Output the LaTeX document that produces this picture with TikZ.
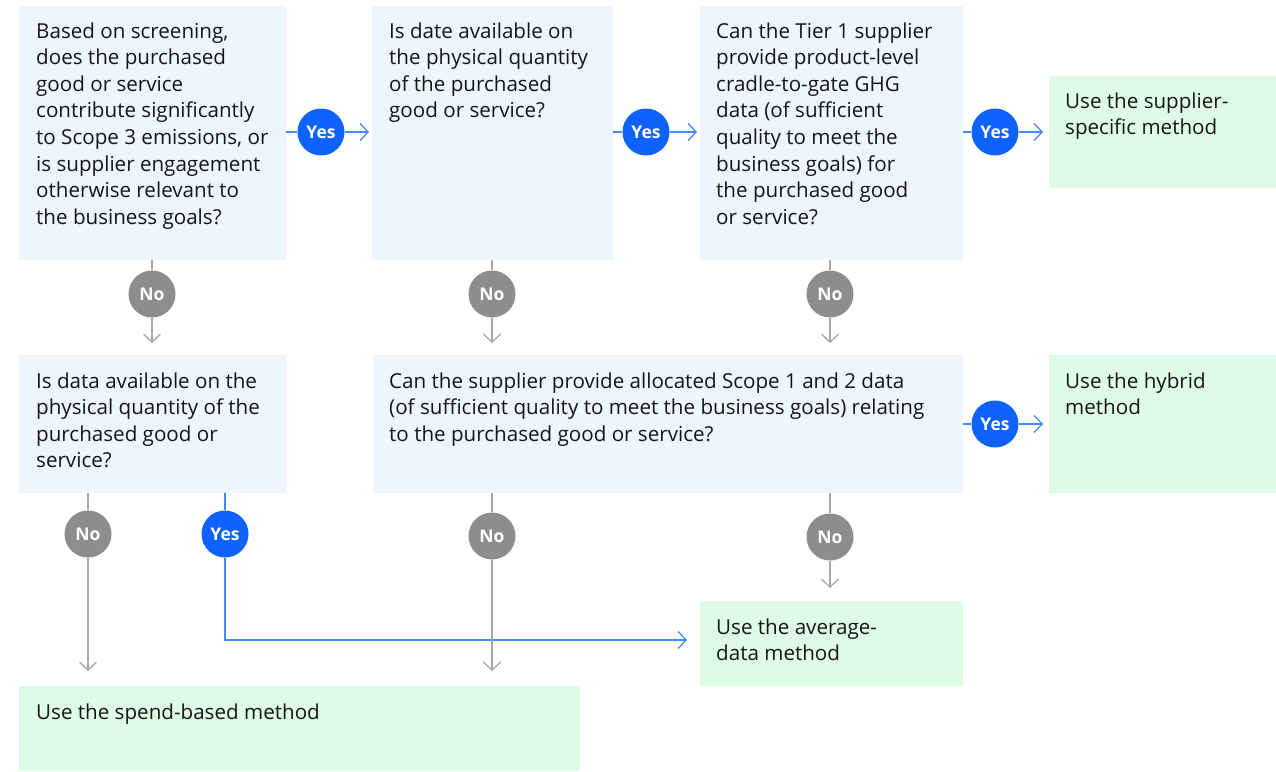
\documentclass[tikz,border=0pt]{standalone}
\usepackage{fontspec}
\setmainfont{Open Sans}
\usetikzlibrary{arrows.meta}
\definecolor{qfill}{HTML}{EDF5FF}
\definecolor{afill}{HTML}{DEFBE6}
\definecolor{yesblue}{HTML}{0F62FE}
\definecolor{yesline}{HTML}{4589FF}
\definecolor{nogray}{HTML}{8D8D8D}
\definecolor{noline}{HTML}{A8A8A8}
\definecolor{ink}{HTML}{161616}

\begin{document}
\begin{tikzpicture}[x=1pt,y=-1pt,
  box/.style={draw=none,inner sep=0pt,outer sep=0pt,anchor=north west},
  qbox/.style={box,fill=qfill},
  abox/.style={box,fill=afill},
  txt/.style={anchor=base west,inner sep=0pt,text=ink,font=\fontsize{20.6}{26.6}\selectfont},
  badge/.style={circle,minimum size=47pt,inner sep=0pt,text=white,font=\fontsize{17.5}{17.5}\selectfont\bfseries},
  yes/.style={badge,fill=yesblue},
  no/.style={badge,fill=nogray},
  yarrow/.style={draw=yesline,line width=1.3pt,-{Straight Barb[length=8pt,width=17pt]}},
  narrow/.style={draw=noline,line width=1.3pt,-{Straight Barb[length=8pt,width=17pt]}}
]
\useasboundingbox (0,0) rectangle (1276,771);

% question boxes
\node[qbox,minimum width=267pt,minimum height=254pt] (q1) at (19,6) {};
\node[qbox,minimum width=241pt,minimum height=254pt] (q2) at (372,6) {};
\node[qbox,minimum width=263pt,minimum height=254pt] (q3) at (700,6) {};
\node[qbox,minimum width=267pt,minimum height=138pt] (q5) at (19,355) {};
\node[qbox,minimum width=590pt,minimum height=138pt] (q6) at (373,355) {};

% method boxes
\node[abox,minimum width=227pt,minimum height=112pt] (a1) at (1049,76) {};
\node[abox,minimum width=227pt,minimum height=138pt] (a2) at (1049,355) {};
\node[abox,minimum width=263pt,minimum height=85pt] (a3) at (700,601) {};
\node[abox,minimum width=561pt,minimum height=85pt] (a4) at (19,686) {};

% texts
\node[txt] (t1) at (36,38) {\parbox[t]{300pt}{\raggedright Based on screening,\\does the purchased\\good or service\\contribute significantly\\to Scope 3 emissions, or\\is supplier engagement\\otherwise relevant to\\the business goals?}};
\node[txt] (t2) at (389,38) {\parbox[t]{300pt}{\raggedright Is date available on\\the physical quantity\\of the purchased\\good or service?}};
\node[txt] (t3) at (716,38) {\parbox[t]{300pt}{\raggedright Can the Tier 1 supplier\\provide product-level\\cradle-to-gate GHG\\data (of sufficient\\quality to meet the\\business goals) for\\the purchased good\\or service?}};
\node[txt] (t4) at (1065,108) {\parbox[t]{300pt}{\raggedright Use the supplier-\\specific method}};
\node[txt] (t5) at (36,388) {\parbox[t]{300pt}{\raggedright Is data available on the\\physical quantity of the\\purchased good or\\service?}};
\node[txt] (t6) at (389,388) {\parbox[t]{640pt}{\raggedright Can the supplier provide allocated Scope 1 and 2 data\\(of sufficient quality to meet the business goals) relating\\to the purchased good or service?}};
\node[txt] (t7) at (1065,388) {\parbox[t]{300pt}{\raggedright Use the hybrid\\method}};
\node[txt] (t8) at (716,634) {\parbox[t]{300pt}{\raggedright Use the average-\\data method}};
\node[txt] (t9) at (36,719) {\parbox[t]{540pt}{\raggedright Use the spend-based method}};

% decision badges
\node[yes] (y1) at (321,132) {Yes};
\node[yes] (y2) at (646,132) {Yes};
\node[yes] (y3) at (995,132) {Yes};
\node[yes] (y4) at (995,424) {Yes};
\node[yes] (y5) at (225,534) {Yes};
\node[no] (n1) at (152,294) {No};
\node[no] (n2) at (492,294) {No};
\node[no] (n3) at (830,294) {No};
\node[no] (n4) at (88,534) {No};
\node[no] (n5) at (492,536) {No};
\node[no] (n6) at (830,537) {No};

% yes connectors
\draw[yarrow,shorten >=3pt] (q1.east |- y1) -- (y1) -- (q2.west |- y1);
\draw[yarrow,shorten >=3pt] (q2.east |- y2) -- (y2) -- (q3.west |- y2);
\draw[yarrow,shorten >=6pt] (q3.east |- y3) -- (y3) -- (a1.west |- y3);
\draw[yarrow,shorten >=6pt] (q6.east |- y4) -- (y4) -- (a2.west |- y4);
\coordinate (bend) at (225,640);
\draw[yarrow,shorten >=13pt] (q5.south -| y5) -- (y5) -- (bend) -- (a3.west |- bend);

% no connectors
\draw[narrow,shorten >=12pt] (q1.south -| n1) -- (n1) -- (q5.north -| n1);
\draw[narrow,shorten >=12pt] (q2.south -| n2) -- (n2) -- (q6.north -| n2);
\draw[narrow,shorten >=12pt] (q3.south -| n3) -- (n3) -- (q6.north -| n3);
\draw[narrow,shorten >=15pt] (q5.south -| n4) -- (n4) -- (a4.north -| n4);
\draw[narrow,shorten >=15pt] (q6.south -| n5) -- (n5) -- (a4.north -| n5);
\draw[narrow,shorten >=13pt] (q6.south -| n6) -- (n6) -- (a3.north -| n6);
\end{tikzpicture}
\end{document}
